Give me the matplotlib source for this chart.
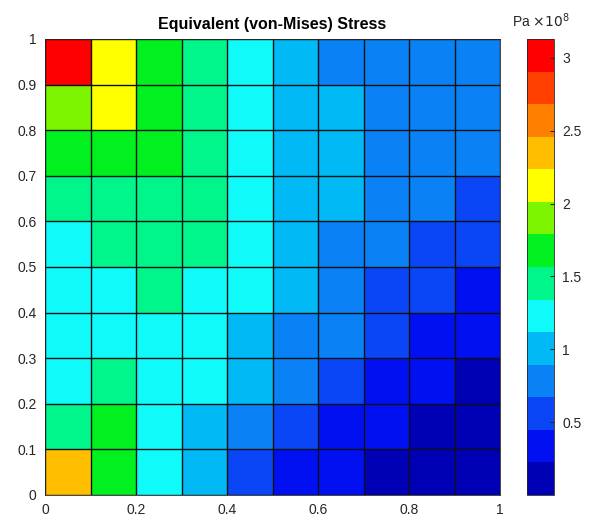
import matplotlib
matplotlib.use('Agg')
import matplotlib.pyplot as plt
import numpy as np
from matplotlib.colors import ListedColormap, BoundaryNorm

# element edges of the 10 x 10 mesh over the unit square
x_edges = np.linspace(0, 1, 11)
y_edges = np.linspace(0, 1, 11)

# von Mises stress per element, units of 1e8 Pa, rows listed from y=1 down to y=0
stress_rows = [
    [3.02, 2.10, 1.67, 1.46, 1.22, 1.01, 0.80, 0.78, 0.77, 0.76],
    [1.90, 2.13, 1.69, 1.44, 1.24, 1.03, 0.98, 0.82, 0.79, 0.77],
    [1.70, 1.68, 1.66, 1.45, 1.23, 1.02, 0.97, 0.81, 0.78, 0.75],
    [1.47, 1.46, 1.45, 1.43, 1.24, 1.00, 0.96, 0.79, 0.74, 0.60],
    [1.25, 1.44, 1.42, 1.40, 1.22, 1.00, 0.85, 0.76, 0.62, 0.57],
    [1.27, 1.24, 1.43, 1.25, 1.21, 0.99, 0.82, 0.64, 0.60, 0.40],
    [1.26, 1.23, 1.22, 1.20, 1.05, 0.86, 0.80, 0.58, 0.38, 0.33],
    [1.24, 1.47, 1.23, 1.21, 1.02, 0.84, 0.59, 0.36, 0.32, 0.18],
    [1.48, 1.70, 1.21, 0.99, 0.83, 0.60, 0.37, 0.34, 0.17, 0.15],
    [2.38, 1.71, 1.20, 0.98, 0.58, 0.39, 0.35, 0.16, 0.14, 0.12],
]
stress = np.array(stress_rows[::-1])

c_min, c_max = 0.0, 3.13
c_ticks = [0.5, 1, 1.5, 2, 2.5, 3]

# 14-level palette, low to high
levels = ['#0000b4', '#0010f0', '#0a46f5', '#0a82f5', '#00b9f5', '#10fafa', '#00f58a',
          '#00f020', '#7ef500', '#ffff00', '#ffbf00', '#ff8000', '#ff4000', '#ff0000']
cmap = ListedColormap(levels)
norm = BoundaryNorm(np.linspace(c_min, c_max, len(levels) + 1), cmap.N)

plt.rcParams['font.family'] = ['Liberation Sans', 'DejaVu Sans']
tick_col = '#262626'

fig = plt.figure(figsize=(5.93, 5.25), dpi=100)
ax = fig.add_axes([45 / 593, 30 / 525, 455 / 593, 456 / 525])
cax = fig.add_axes([527 / 593, 30 / 525, 27 / 593, 456 / 525])

mesh = ax.pcolormesh(x_edges, y_edges, stress, cmap=cmap, norm=norm)
# element outlines
ax.vlines(x_edges, 0, 1, colors='#101010', linewidth=1.0, snap=True)
ax.hlines(y_edges, 0, 1, colors='#101010', linewidth=1.0, snap=True)

ax.set_xlim(0, 1)
ax.set_ylim(0, 1)
ax.set_xticks([0, 0.2, 0.4, 0.6, 0.8, 1])
ax.set_xticklabels(['0', '0.2', '0.4', '0.6', '0.8', '1'])
ax.set_yticks(np.round(np.arange(0, 1.01, 0.1), 1))
ax.set_yticklabels(['0', '0.1', '0.2', '0.3', '0.4', '0.5', '0.6', '0.7', '0.8', '0.9', '1'])
ax.tick_params(labelsize=10, colors=tick_col, length=0, pad=6)
for s in ax.spines.values():
    s.set_color(tick_col)
    s.set_linewidth(0.6)
ax.set_title('Equivalent (von-Mises) Stress', fontsize=11.5, fontweight='bold', pad=7)

cb = fig.colorbar(mesh, cax=cax, ticks=c_ticks)
cb.ax.minorticks_off()
cb.ax.set_yticklabels(['0.5', '1', '1.5', '2', '2.5', '3'])
cb.ax.tick_params(labelsize=10, colors=tick_col, direction='in', length=3, width=0.8, pad=6)
cb.outline.set_edgecolor(tick_col)
cb.outline.set_linewidth(0.6)
cb.ax.set_ylim(c_min, c_max)
cax.text(0.5, 1.02, r'Pa $\times10^{8}$', transform=cax.transAxes, ha='center', va='bottom',
         fontsize=10, color=tick_col)

fig.savefig('out.png', dpi=100)
